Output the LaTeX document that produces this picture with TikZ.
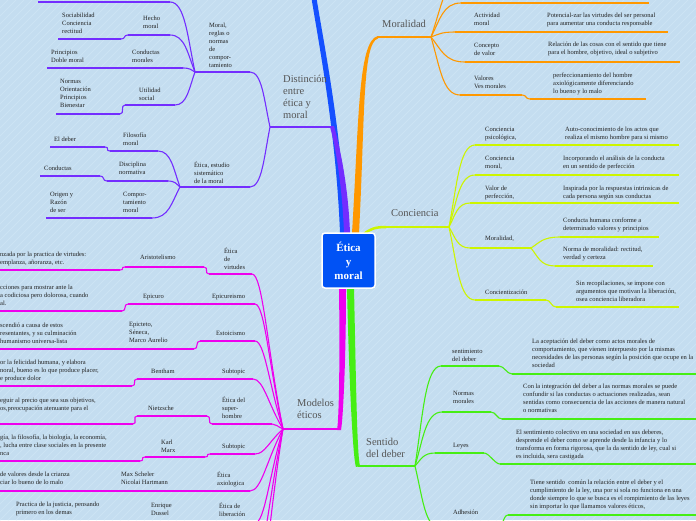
\documentclass[tikz,border=0pt]{standalone}
\usepackage{fontspec}
\setmainfont{Liberation Serif}
\usetikzlibrary{calc}
\definecolor{bg}{RGB}{196,221,240}
\definecolor{bgs}{RGB}{204,227,244}
\definecolor{cblue}{RGB}{20,80,255}
\definecolor{cpur}{RGB}{115,45,255}
\definecolor{corg}{RGB}{255,152,0}
\definecolor{clim}{RGB}{205,245,0}
\definecolor{cmag}{RGB}{238,0,238}
\definecolor{cgrn}{RGB}{70,238,20}
\definecolor{cbox}{RGB}{0,82,245}
\definecolor{ctxt}{RGB}{35,35,35}
\definecolor{ctop}{RGB}{85,85,85}
% link from junction #2 to child end #3
\newcommand\lnk[3][]{\draw[#1] let \p1=(#2), \p2=(#3) in (\p1) .. controls ({\x1+0.3*(\x2-\x1)},{\y1+0.5*(\y2-\y1)}) and ({\x1+0.4*(\x2-\x1)},{\y2}) .. (\p2);}
\newcommand\lnkw[3][]{\draw[#1] let \p1=(#2), \p2=(#3) in (\p1) .. controls ({\x1+0.5*(\x2-\x1)},{\y1+0.5*(\y2-\y1)}) and ({\x1+0.65*(\x2-\x1)},{\y2}) .. (\p2);}
% small S step, left point first
\newcommand\slk[3][]{\draw[#1] (#2) .. controls +(5,0) and +(-5,0) .. (#3);}
\begin{document}
\begin{tikzpicture}[x=1pt,y=-1pt,
  sm/.style={anchor=north west,inner sep=0pt,yshift=3.5pt,align=left,font=\fontsize{6.5}{8}\selectfont,text=ctxt,execute at begin node={\rule{0pt}{5pt}}},
  tp/.style={anchor=north west,inner sep=0pt,yshift=5.7pt,align=left,font=\fontsize{10.5}{12}\selectfont,text=ctop,execute at begin node={\rule{0pt}{8pt}}},
  pu/.style={draw=cpur,line width=1.1pt},
  og/.style={draw=corg,line width=1.1pt},
  lm/.style={draw=clim,line width=1.1pt},
  mg/.style={draw=cmag,line width=1.1pt},
  gr/.style={draw=cgrn,line width=1.1pt},
]
\useasboundingbox (0,0) rectangle (696,520);
\fill[bg] (0,0) rectangle (696,520);
\clip (0,0) rectangle (696,520);
\foreach \s in {-520,-512,...,696} \draw[bgs,line width=0.8pt] (\s,520) -- (\s+520,0);

% ---------- main tapered connectors ----------
\fill[cblue] (340,233) .. controls (336,130) and (318,40) .. (311,-5) -- (316,-5) .. controls (323,40) and (342,130) .. (346,233) -- cycle;
\fill[cpur] (344,233) .. controls (342,180) and (334,140) .. (330,127) -- (334,126) .. controls (338,140) and (348,180) .. (350,233) -- cycle;
\fill[corg] (352,233) .. controls (359,120) and (358,40) .. (378,36) -- (378,38.5) .. controls (362,43) and (365,120) .. (359,233) -- cycle;
\fill[cmag] (339,288) .. controls (340,360) and (339,420) .. (337,430) -- (341,430) .. controls (343,420) and (346,360) .. (346,288) -- cycle;
\fill[cgrn] (347,288) .. controls (349,380) and (353,460) .. (356,467) -- (360,466) .. controls (357,455) and (356,380) .. (354,288) -- cycle;
\draw[clim,line width=2.5pt] (364,234) .. controls (370,229) and (375,227) .. (386,227);

% ---------- Distincion (purple) ----------
\coordinate (dJ) at (270,127); \coordinate (dR) at (333,127);
\draw[pu,line width=1.5pt] (dJ) -- (dR);
\coordinate (mL) at (195,72); \coordinate (mR) at (250,72);
\coordinate (eL) at (180,187); \coordinate (eR) at (250,187);
\draw[pu] (mL) -- (mR); \lnk[pu]{dJ}{mR};
\draw[pu] (eL) -- (eR); \lnk[pu]{dJ}{eR};
\coordinate (t1L) at (38,2); \coordinate (t1R) at (170,2);
\draw[pu] (t1L) -- (t1R); \lnk[pu]{mL}{t1R};
\coordinate (hL) at (128,35); \coordinate (hR) at (170,35);
\coordinate (sL) at (58,39); \coordinate (sR) at (121,39);
\draw[pu] (hL) -- (hR); \lnk[pu]{mL}{hR}; \draw[pu] (sL) -- (sR); \slk[pu]{sR}{hL};
\coordinate (pL) at (47,68); \coordinate (cR) at (183,68);
\draw[pu] (pL) -- (cR); \lnk[pu]{mL}{cR};
\coordinate (uL) at (125,105); \coordinate (uR) at (175,105);
\coordinate (nL) at (56,114); \coordinate (nR) at (120,114);
\draw[pu] (uL) -- (uR); \lnk[pu]{mL}{uR}; \draw[pu] (nL) -- (nR); \slk[pu]{nR}{uL};
\coordinate (fL) at (110,151); \coordinate (fR) at (158,151);
\coordinate (edL) at (50,147); \coordinate (edR) at (105,147);
\draw[pu] (fL) -- (fR); \lnk[pu]{eL}{fR}; \draw[pu] (edL) -- (edR); \slk[pu]{edR}{fL};
\coordinate (diL) at (107,181); \coordinate (diR) at (168,181);
\coordinate (c2L) at (40,176); \coordinate (c2R) at (100,176);
\draw[pu] (diL) -- (diR); \lnk[pu]{eL}{diR}; \draw[pu] (c2L) -- (c2R); \slk[pu]{c2R}{diL};
\coordinate (coL) at (46,218); \coordinate (coR) at (152,218);
\draw[pu] (coL) -- (coR); \lnk[pu]{eL}{coR};

\node[tp] (tDist) at (283,81) {Distinción\\entre\\ética y\\moral};
\node[sm] (n1) at (62,16) {Sociabilidad\\Conciencia\\rectitud};
\node[sm] (n2) at (143,19) {Hecho\\moral};
\node[sm] (n3) at (209,26) {Moral,\\reglas o\\normas\\de\\compor-\\tamiento};
\node[sm] (n4) at (51,53) {Principios\\Doble moral};
\node[sm] (n5) at (132,53) {Conductas\\morales};
\node[sm] (n6) at (60,83) {Normas\\Orientación\\Principios\\Bienestar};
\node[sm] (n7) at (139,91) {Utilidad\\social};
\node[sm] (n8) at (54,140) {El deber};
\node[sm] (n9) at (123,136) {Filosofía\\moral};
\node[sm] (n10) at (44,169) {Conductas};
\node[sm] (n11) at (119,165) {Disciplina\\normativa};
\node[sm] (n12) at (194,165) {Ética, estudio\\sistemático\\de la moral};
\node[sm] (n13) at (50,195) {Origen y\\Razón\\de ser};
\node[sm] (n14) at (123,195) {Compor-\\tamiento\\moral};

% ---------- Modelos eticos (magenta) ----------
\coordinate (moJ) at (283,429); \coordinate (moR) at (340,429);
\draw[mg,line width=1.5pt] (moJ) -- (moR);
\coordinate (aL) at (209,274); \coordinate (aR) at (252,274);
\coordinate (arL) at (125,267); \coordinate (arR) at (204,267);
\coordinate (alL) at (-5,270); \coordinate (alR) at (120,270);
\draw[mg] (aL) -- (aR); \lnkw[mg]{moJ}{aR}; \draw[mg] (arL) -- (arR); \slk[mg]{arR}{aL};
\draw[mg] (alL) -- (alR); \slk[mg]{alR}{arL};
\coordinate (epL) at (128,304); \coordinate (bR) at (255,304);
\coordinate (blL) at (-5,311); \coordinate (blR) at (122,311);
\draw[mg] (epL) -- (bR); \lnkw[mg]{moJ}{bR}; \draw[mg] (blL) -- (blR); \slk[mg]{blR}{epL};
\coordinate (cL2) at (200,341); \coordinate (cR2) at (255,341);
\coordinate (clL) at (-5,349); \coordinate (clR) at (194,349);
\draw[mg] (cL2) -- (cR2); \lnkw[mg]{moJ}{cR2}; \draw[mg] (clL) -- (clR); \slk[mg]{clR}{cL2};
\coordinate (dL2) at (137,379); \coordinate (dR2) at (253,379);
\coordinate (dlL) at (-5,386); \coordinate (dlR) at (132,386);
\draw[mg] (dL2) -- (dR2); \lnkw[mg]{moJ}{dR2}; \draw[mg] (dlL) -- (dlR); \slk[mg]{dlR}{dL2};
\coordinate (eL2) at (212,424); \coordinate (eR2) at (272,424);
\coordinate (niL) at (137,416); \coordinate (niR) at (207,416);
\coordinate (elL) at (-5,424); \coordinate (elR) at (133,424);
\draw[mg] (eL2) -- (eR2); \lnkw[mg]{moJ}{eR2}; \draw[mg] (niL) -- (niR); \slk[mg]{niR}{eL2};
\draw[mg] (elL) -- (elR); \slk[mg]{elR}{niL};
\coordinate (fL2) at (210,454); \coordinate (fR2) at (255,454);
\coordinate (kaL) at (145,457); \coordinate (kaR) at (205,457);
\coordinate (flL) at (-5,461); \coordinate (flR) at (140,461);
\draw[mg] (fL2) -- (fR2); \lnkw[mg]{moJ}{fR2}; \draw[mg] (kaL) -- (kaR); \slk[mg]{kaR}{fL2};
\draw[mg] (flL) -- (flR); \slk[mg]{flR}{kaL};
\coordinate (gL) at (-5,491); \coordinate (gR) at (250,491);
\draw[mg] (gL) -- (gR); \lnkw[mg]{moJ}{gR};
\coordinate (hL2) at (10,523); \coordinate (hR2) at (255,523);
\draw[mg] (hL2) -- (hR2); \lnkw[mg]{moJ}{hR2};
\coordinate (iR) at (255,560); \coordinate (jR) at (255,600);
\lnkw[mg]{moJ}{iR}; \lnkw[mg]{moJ}{jR};

\node[tp] (tMod) at (297,405) {Modelos\\éticos};
\node[sm] (m1) at (224,251) {Ética\\de\\virtudes};
\node[sm] (m2) at (140,258) {Aristotelismo};
\node[sm] (m3) at (0,255) {nzada por la practica de virtudes:\\emplanza, añoranza, etc.};
\node[sm] (m4) at (143,297) {Epicuro};
\node[sm] (m5) at (212,297) {Epicureismo};
\node[sm] (m6) at (0,288) {cciones para mostrar ante la\\a codiciosa pero dolorosa, cuando\\al.};
\node[sm] (m7) at (129,325) {Epicteto,\\Séneca,\\Marco Aurelio};
\node[sm] (m8) at (216,334) {Estoicismo};
\node[sm] (m9) at (0,326) {scendió a causa de estos\\resentantes, y su culminación\\humanismo universa-lista};
\node[sm] (m10) at (151,372) {Bentham};
\node[sm] (m11) at (222,372) {Subtopic};
\node[sm] (m12) at (0,363) {or la felicidad humana, y elabora\\noral, bueno es lo que produce placer,\\e produce dolor};
\node[sm] (m13) at (148,409) {Nietzsche};
\node[sm] (m14) at (222,400) {Ética del\\super-\\hombre};
\node[sm] (m15) at (0,401) {eguir al precio que sea sus objetivos,\\os,preocupación atenuante para el};
\node[sm] (m16) at (161,443) {Karl\\Marx};
\node[sm] (m17) at (222,447) {Subtopic};
\node[sm] (m18) at (0,438) {gía, la filosofía, la biología, la economía,\\, lucha entre clase sociales en la presente\\nca};
\node[sm] (m19) at (121,475) {Max Scheler\\Nicolai Hartmann};
\node[sm] (m20) at (217,475) {Ética\\axiologica};
\node[sm] (m21) at (0,475) {de valores desde la crianza\\ciar lo bueno de lo malo};
\node[sm] (m22) at (151,506) {Enrique\\Dussel};
\node[sm] (m23) at (219,506) {Ética de\\liberación};
\node[sm] (m24) at (16,505) {Practica de la justicia, pensando\\primero en los demas};

% ---------- Moralidad (orange) ----------
\coordinate (orL) at (377,37); \coordinate (orJ) at (431,37);
\draw[og,line width=1.5pt] (orL) -- (orJ);
\coordinate (otL) at (461,3); \coordinate (otR) at (649,3);
\draw[og] (otL) -- (otR); \lnk[og]{orJ}{otL};
\coordinate (ooL) at (470,-30); \lnk[og]{orJ}{ooL};
\coordinate (acL) at (455,32); \coordinate (acR) at (668,32);
\draw[og] (acL) -- (acR); \lnk[og]{orJ}{acL};
\coordinate (cvL) at (465,62); \coordinate (cvR) at (680,62);
\draw[og] (cvL) -- (cvR); \lnk[og]{orJ}{cvL};
\coordinate (vaL) at (460,95); \coordinate (vaR) at (522,95);
\coordinate (vlL) at (530,99); \coordinate (vlR) at (646,99);
\draw[og] (vaL) -- (vaR); \lnk[og]{orJ}{vaL}; \draw[og] (vlL) -- (vlR); \slk[og]{vaR}{vlL};

\node[tp] (tMor) at (382,25) {Moralidad};
\node[sm] (o1) at (474,16) {Actividad\\moral};
\node[sm] (o2) at (547,16) {Potencial-zar las virtudes del ser personal\\para aumentar una conducta responsable};
\node[sm] (o3) at (474,46) {Concepto\\de valor};
\node[sm] (o4) at (548,45) {Relación de las cosas con el sentido que tiene\\para el hombre, objetivo, ideal o subjetivo};
\node[sm] (o5) at (474,79) {Valores\\Ves morales};
\node[sm] (o6) at (553,76) {perfeccionamiento del hombre\\axiológicamente diferenciando\\lo bueno y lo malo};

% ---------- Conciencia (lime) ----------
\coordinate (ciL) at (384,227); \coordinate (ciJ) at (449,227);
\draw[lm,line width=1.5pt] (ciL) -- (ciJ);
\coordinate (psL) at (475,145); \coordinate (psR) at (679,145);
\draw[lm] (psL) -- (psR); \lnk[lm]{ciJ}{psL};
\coordinate (cmL) at (475,175); \coordinate (cmR) at (679,175);
\draw[lm] (cmL) -- (cmR); \lnk[lm]{ciJ}{cmL};
\coordinate (vpL) at (470,203); \coordinate (vpR) at (679,203);
\draw[lm] (vpL) -- (vpR); \lnk[lm]{ciJ}{vpL};
\coordinate (mdL) at (470,248); \coordinate (mdR) at (531,248);
\draw[lm] (mdL) -- (mdR); \lnk[lm]{ciJ}{mdL};
\coordinate (chL) at (560,237); \coordinate (chR) at (659,237);
\draw[lm] (chL) -- (chR); \lnk[lm]{mdR}{chL};
\coordinate (nmL) at (555,266); \coordinate (nmR) at (653,266);
\draw[lm] (nmL) -- (nmR); \lnk[lm]{mdR}{nmL};
\coordinate (czL) at (475,300); \coordinate (czR) at (546,300);
\coordinate (zlL) at (556,307); \coordinate (zlR) at (679,307);
\draw[lm] (czL) -- (czR); \lnk[lm]{ciJ}{czL}; \draw[lm] (zlL) -- (zlR); \slk[lm]{czR}{zlL};

\node[tp] (tCon) at (391,214) {Conciencia};
\node[sm] (k1) at (485,130) {Conciencia\\psicológica,};
\node[sm] (k2) at (565,130) {Auto-conocimiento de los actos que\\realiza el mismo hombre para si mismo};
\node[sm] (k3) at (485,159) {Conciencia\\moral,};
\node[sm] (k4) at (563,159) {Incorporando el análisis de la conducta\\en un sentido de perfección};
\node[sm] (k5) at (485,189) {Valor de\\perfección,};
\node[sm] (k6) at (563,189) {Inspirada por la respuestas intrinsicas de\\cada persona según sus conductas};
\node[sm] (k7) at (485,239) {Moralidad,};
\node[sm] (k8) at (563,221) {Conducta humana conforme a\\determinado valores y principios};
\node[sm] (k9) at (563,250) {Norma de moralidad: rectitud,\\verdad y certeza};
\node[sm] (k10) at (485,293) {Concientización};
\node[sm] (k11) at (576,284) {Sin recopilaciones, se impone con\\argumentos que motivan la liberación,\\osea conciencia liberadora};

% ---------- Sentido del deber (green) ----------
\coordinate (seL) at (358,466); \coordinate (seJ) at (415,466);
\draw[gr,line width=1.5pt] (seL) -- (seJ);
\coordinate (snL) at (441,366); \coordinate (snR) at (499,366);
\coordinate (slL) at (512,374); \coordinate (slR) at (700,374);
\draw[gr] (snL) -- (snR); \lnk[gr]{seJ}{snL}; \draw[gr] (slL) -- (slR); \slk[gr]{snR}{slL};
\coordinate (nrL) at (442,412); \coordinate (nrR) at (491,412);
\coordinate (nlL) at (502,419); \coordinate (nlR) at (700,419);
\draw[gr] (nrL) -- (nrR); \lnk[gr]{seJ}{nrL}; \draw[gr] (nlL) -- (nlR); \slk[gr]{nrR}{nlL};
\coordinate (lyL) at (435,453); \coordinate (lyR) at (484,453);
\coordinate (llL) at (500,464); \coordinate (llR) at (700,464);
\draw[gr] (lyL) -- (lyR); \lnk[gr]{seJ}{lyL}; \draw[gr] (llL) -- (llR); \slk[gr]{lyR}{llL};
\coordinate (adL) at (440,528); \coordinate (adR) at (498,528);
\coordinate (aaL) at (508,515); \coordinate (aaR) at (700,515);
\draw[gr] (adL) -- (adR); \lnk[gr]{seJ}{adL}; \draw[gr] (aaL) -- (aaR); \slk[gr]{adR}{aaL};

\node[tp] (tSen) at (366,444) {Sentido\\del deber};
\node[sm] (s1) at (452,352) {sentimiento\\del deber};
\node[sm] (s2) at (532,342) {La aceptación del deber como actos morales de\\comportamiento, que vienen interpuesto por la mismas\\necesidades de las personas según la posición que ocupe en la\\sociedad};
\node[sm] (s3) at (453,395) {Normas\\morales};
\node[sm] (s4) at (523,387) {Con la integración del deber a las normas morales se puede\\confundir si las conductas o actuaciones realizadas, sean\\sentidas como consecuencia de las acciones de manera natural\\o normativas};
\node[sm] (s5) at (453,446) {Leyes};
\node[sm] (s6) at (516,433) {El sentimiento colectivo en una sociedad en sus deberes,\\desprende el deber como se aprende desde la infancia y lo\\transforma en forma rigorosa, que la da sentido de ley, cual si\\es incluida, sera castigada};
\node[sm] (s7) at (453,513) {Adhesión};
\node[sm] (s8) at (530,483) {Tiene sentido\ \ común la relación entre el deber y el\\cumplimiento de la ley, una por si sola no funciona en una\\donde siempre lo que se busca es el rompimiento de las leyes\\sin importar lo que llamamos valores éticos,};

% ---------- centre ----------
\node[draw=white,line width=1.5pt,fill=cbox,rounded corners=3pt,minimum width=53pt,minimum height=55pt,inner sep=0pt,align=center,font=\fontsize{11}{14}\selectfont\bfseries,text=white] (ctr) at (348.5,260.5) {Ética\\y\\moral};
\end{tikzpicture}
\end{document}
